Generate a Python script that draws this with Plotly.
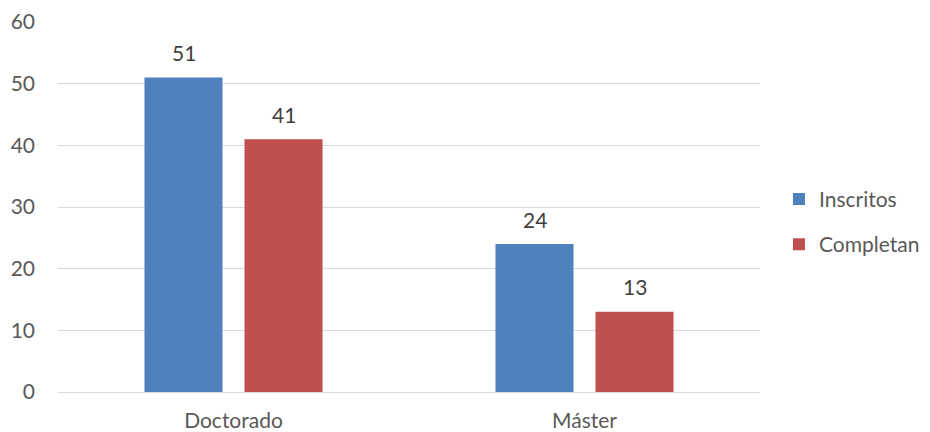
import plotly.graph_objects as go

categories = ["Doctorado", "Máster"]
inscritos = [51, 24]
completan = [41, 13]
y_ticks = [0, 10, 20, 30, 40, 50, 60]

font_family = "Lato, Open Sans, sans-serif"
gray = "#595959"
BLUE = "#4F81BD"
RED = "#C0504D"
FS = 21

fig = go.Figure()
fig.add_trace(go.Bar(name="Inscritos", x=categories, y=inscritos,
                     marker=dict(color=BLUE, line=dict(width=0)),
                     legendgroup="a"))
fig.add_trace(go.Bar(name="Completan", x=categories, y=completan,
                     marker=dict(color=RED, line=dict(width=0)),
                     legendgroup="b"))

annotations = []
for cat, v in zip(categories, inscritos):
    annotations.append(dict(x=cat, y=v, text=str(v), showarrow=False,
                            xshift=-50, yshift=25,
                            font=dict(size=FS, color="#404040")))
for cat, v in zip(categories, completan):
    annotations.append(dict(x=cat, y=v, text=str(v), showarrow=False,
                            xshift=50, yshift=25,
                            font=dict(size=FS, color="#404040")))

fig.update_layout(
    width=930, height=432,
    margin=dict(l=50, r=178, t=14, b=48, autoexpand=False),
    paper_bgcolor="white", plot_bgcolor="white",
    font=dict(family=font_family, size=FS, color=gray),
    barmode="group", bargap=0.43, bargroupgap=0.22,
    annotations=annotations,
    legend=dict(x=0.829, y=0.505, xref="container", yref="container",
                xanchor="left", yanchor="middle",
                traceorder="grouped", tracegroupgap=15, itemwidth=30,
                font=dict(size=FS, color=gray)),
    xaxis=dict(showgrid=False, showline=False, ticks="", automargin=False,
               ticklabelstandoff=14,
               tickfont=dict(size=FS, color=gray)),
    yaxis=dict(range=[0, 60], tickvals=y_ticks, showgrid=True,
               gridcolor="#D9D9D9", gridwidth=1, zeroline=True,
               zerolinecolor="#D9D9D9", zerolinewidth=1, automargin=False,
               ticks="", ticklabelstandoff=22,
               tickfont=dict(size=FS, color=gray)),
)
fig.write_html("out.html")
